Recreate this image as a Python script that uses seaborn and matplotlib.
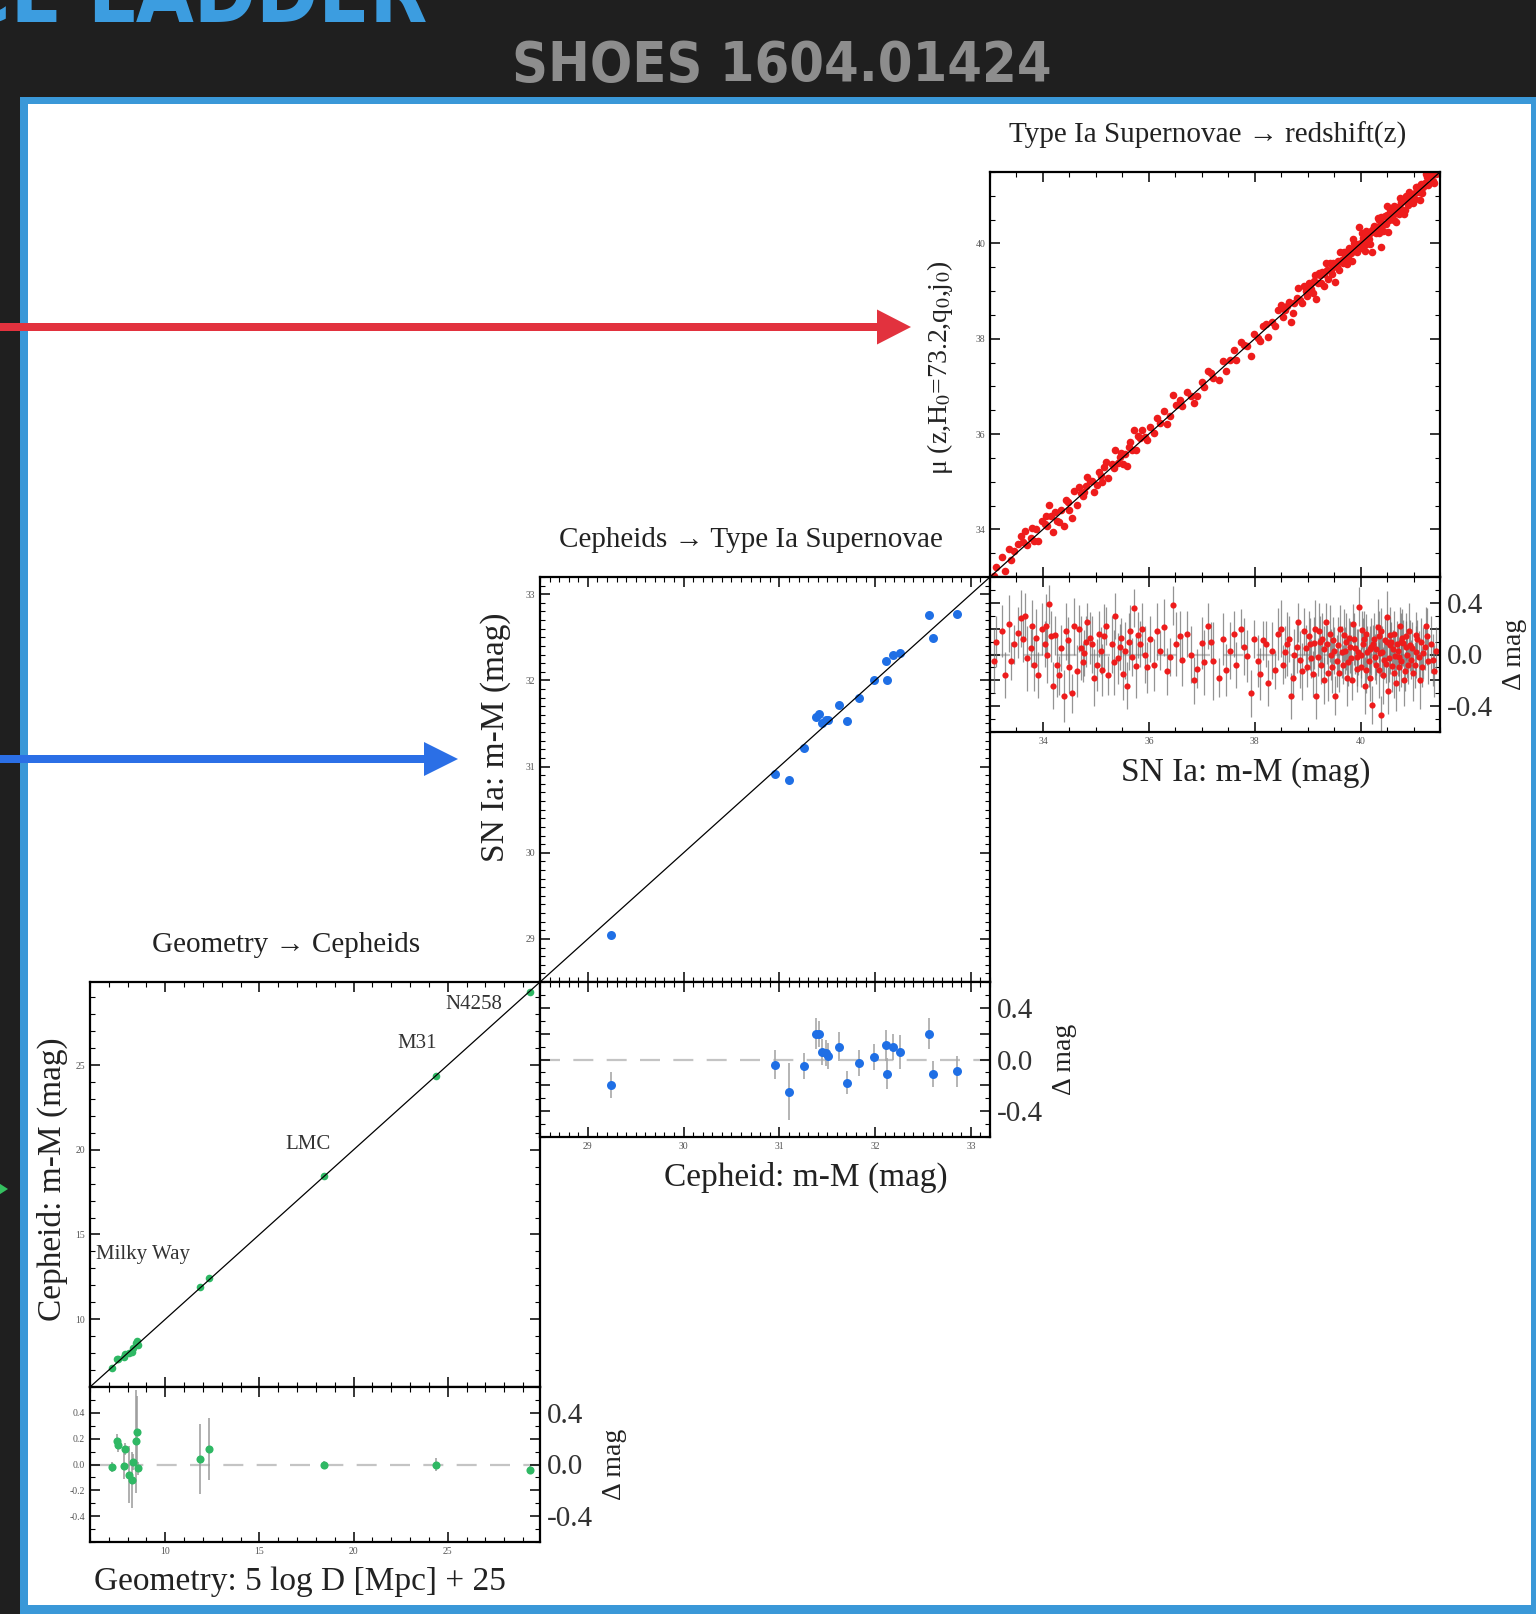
import numpy as np
import pandas as pd
import matplotlib
matplotlib.use("Agg")
import matplotlib.pyplot as plt
import seaborn as sns
from matplotlib.patches import Rectangle, FancyArrow
from matplotlib.ticker import MultipleLocator, FixedLocator, StrMethodFormatter

# ---- data ----

# rung 1: geometry -> cepheids (anchors)
anchor_geo = [7.16, 7.45, 7.50, 7.80, 7.85, 8.06, 8.21, 8.28, 8.44, 8.49, 8.53, 11.84, 12.32, 18.45, 24.36, 29.35]
anchor_ceph = [7.14, 7.63, 7.65, 7.79, 7.97, 7.98, 8.09, 8.30, 8.62, 8.74, 8.50, 11.88, 12.44, 18.45, 24.36, 29.31]
anchor_res = [-0.02, 0.18, 0.15, -0.01, 0.12, -0.08, -0.12, 0.02, 0.18, 0.25, -0.03, 0.04, 0.12, 0.00, 0.00, -0.04]
anchor_err = [0.04, 0.06, 0.05, 0.10, 0.05, 0.22, 0.22, 0.06, 0.40, 0.28, 0.05, 0.27, 0.24, 0.03, 0.05, 0.03]
anchor_names = ["Milky Way", "LMC", "M31", "N4258"]

# rung 2: cepheid hosts -> SN Ia
host_ceph = [29.24, 30.95, 31.10, 31.26, 31.38, 31.41, 31.45, 31.49, 31.51, 31.62,
             31.71, 31.83, 31.99, 32.11, 32.12, 32.19, 32.26, 32.56, 32.60, 32.86]
host_sn = [29.04, 30.91, 30.85, 31.21, 31.58, 31.61, 31.51, 31.54, 31.54, 31.72,
           31.53, 31.80, 32.01, 32.22, 32.01, 32.29, 32.32, 32.76, 32.49, 32.77]
host_res = [-0.20, -0.04, -0.25, -0.05, 0.20, 0.20, 0.06, 0.05, 0.03, 0.10,
            -0.18, -0.03, 0.02, 0.11, -0.11, 0.10, 0.06, 0.20, -0.11, -0.09]
host_err = [0.10, 0.11, 0.22, 0.10, 0.12, 0.10, 0.10, 0.10, 0.10, 0.11,
            0.09, 0.10, 0.10, 0.12, 0.12, 0.10, 0.13, 0.12, 0.10, 0.12]

# rung 3: SN Ia -> redshift (Hubble flow)
snia_mag = [
    33.07, 33.23, 33.28, 33.35, 33.46, 33.53, 33.67, 33.70, 33.77, 33.80, 33.87, 33.91, 33.98,
    34.03, 34.07, 34.12, 34.15, 34.19, 34.26, 34.31, 34.40, 34.47, 34.54, 34.59, 34.64, 34.71, 34.78, 34.84, 34.89, 34.93,
    35.02, 35.09, 35.16, 35.23, 35.30, 35.37, 35.42, 35.48, 35.55, 35.58, 35.65, 35.72, 35.76, 35.83, 35.88, 35.93,
    36.03, 36.10, 36.21, 36.28, 36.35, 36.45, 36.52, 36.63, 36.72, 36.80, 36.91, 37.01, 37.11, 37.22, 37.32, 37.41,
    37.53, 37.64, 37.74, 37.85, 37.93,
    38.06, 38.16, 38.26, 38.33, 38.44, 38.54, 38.61, 38.68, 38.75, 38.82, 38.89, 38.96, 39.02,
    39.07, 39.12, 39.16, 39.21, 39.25, 39.28, 39.31, 39.34, 39.39, 39.44, 39.48, 39.52, 39.55, 39.57, 39.62, 39.66,
    39.68, 39.70, 39.74, 39.78, 39.80, 39.82, 39.85, 39.90, 39.93, 39.94, 39.97,
    40.01, 40.02, 40.04, 40.08, 40.10, 40.11, 40.15, 40.18, 40.20, 40.22, 40.25, 40.27, 40.29, 40.32, 40.35, 40.36,
    40.39, 40.41, 40.43, 40.46, 40.48, 40.50, 40.53, 40.56, 40.58, 40.60, 40.63, 40.65, 40.67, 40.70, 40.72, 40.74,
    40.77, 40.79, 40.81, 40.84, 40.86, 40.88, 40.91, 40.95, 40.97,
    41.02, 41.05, 41.07, 41.12, 41.15, 41.18, 41.23, 41.28, 41.33, 41.39, 41.43]
snia_res = [
    -0.05, 0.18, -0.16, 0.24, 0.08, 0.17, 0.30, -0.03, 0.05, 0.22, 0.13, -0.16, 0.20,
    0.08, 0.00, 0.39, 0.14, -0.24, -0.08, -0.16, -0.32, 0.11, -0.30, 0.22, -0.13, 0.05, 0.01, 0.25, 0.13, 0.08,
    -0.08, 0.03, 0.14, -0.16, 0.08, 0.30, -0.03, 0.13, 0.03, -0.24, 0.18, 0.36, -0.09, 0.08, 0.20, 0.00,
    0.12, -0.08, 0.03, 0.21, -0.13, 0.38, 0.08, -0.04, 0.16, 0.00, -0.11, 0.09, 0.22, -0.05, -0.18, 0.12,
    0.03, -0.08, 0.20, -0.01, -0.30,
    -0.05, 0.11, -0.22, 0.03, 0.16, -0.08, 0.08, -0.32, 0.00, 0.25, -0.13, 0.05, 0.14,
    -0.03, 0.09, -0.32, 0.18, -0.08, 0.12, 0.04, 0.25, -0.14, 0.00, 0.11, -0.32, -0.05, 0.07, 0.20, -0.08,
    0.15, 0.03, -0.18, 0.13, 0.06, -0.03, 0.24, 0.05, -0.02, -0.11, 0.37,
    0.00, 0.19, 0.08, -0.24, -0.12, 0.16, -0.05, 0.04, 0.06, -0.39, 0.12, -0.02, -0.08, 0.21, 0.14, 0.01,
    -0.47, 0.02, -0.16, 0.11, -0.07, 0.29, -0.03, 0.07, 0.10, -0.09, 0.16, -0.01, -0.22, 0.03, -0.10, 0.22,
    -0.05, 0.13, 0.09, -0.13, 0.06, 0.00, 0.18, -0.04, 0.05,
    -0.08, 0.02, 0.12, -0.20, 0.10, 0.01, 0.22, -0.05, 0.08, -0.13, 0.03]
snia_err = [
    0.25, 0.20, 0.18, 0.22, 0.15, 0.20, 0.18, 0.25, 0.15, 0.20, 0.22, 0.18, 0.20,
    0.18, 0.22, 0.15, 0.20, 0.18, 0.25, 0.15, 0.20, 0.18, 0.15, 0.22, 0.20, 0.25, 0.18, 0.15, 0.20, 0.22,
    0.20, 0.18, 0.25, 0.15, 0.22, 0.18, 0.20, 0.15, 0.22, 0.18, 0.20, 0.15, 0.25, 0.18, 0.20, 0.22,
    0.18, 0.20, 0.15, 0.22, 0.18, 0.15, 0.25, 0.20, 0.18, 0.22, 0.15, 0.20, 0.18, 0.30, 0.15, 0.20,
    0.22, 0.18, 0.15, 0.20, 0.18,
    0.20, 0.15, 0.18, 0.22, 0.20, 0.15, 0.25, 0.18, 0.20, 0.15, 0.22, 0.18, 0.20,
    0.15, 0.20, 0.18, 0.22, 0.15, 0.20, 0.18, 0.15, 0.22, 0.20, 0.18, 0.15, 0.20, 0.22, 0.18, 0.15,
    0.20, 0.18, 0.22, 0.15, 0.20, 0.18, 0.15, 0.20, 0.22, 0.18, 0.15,
    0.18, 0.15, 0.20, 0.22, 0.18, 0.15, 0.20, 0.18, 0.22, 0.15, 0.20, 0.18, 0.15, 0.22, 0.20, 0.18,
    0.15, 0.20, 0.22, 0.18, 0.15, 0.20, 0.18, 0.22, 0.15, 0.20, 0.18, 0.15, 0.22, 0.20, 0.18, 0.15,
    0.20, 0.22, 0.18, 0.15, 0.20, 0.18, 0.22, 0.15, 0.20,
    0.18, 0.20, 0.15, 0.22, 0.18, 0.20, 0.15, 0.18, 0.22, 0.20, 0.18]

# more SNe from the crowded parts of the Hubble-flow sample
snia_mag_2 = [
    33.12, 33.40, 33.58, 33.62, 33.84, 34.05, 34.22, 34.35, 34.44, 34.50, 34.68, 34.75, 34.82, 34.97, 35.05,
    35.12, 35.20, 35.34, 35.45, 35.52, 35.62, 35.69, 35.80, 35.97, 36.15, 36.40, 36.58, 36.85, 37.05, 37.18,
    37.45, 37.60, 37.80, 37.98, 38.10,
    38.22, 38.38, 38.50, 38.58, 38.65, 38.72, 38.79, 38.86, 38.93, 38.99,
    39.05, 39.10, 39.14, 39.19, 39.23, 39.30, 39.36, 39.42, 39.46, 39.50, 39.59, 39.64, 39.72, 39.76, 39.84,
    39.88, 39.96, 40.00, 40.06, 40.13, 40.17, 40.23, 40.30, 40.34, 40.38, 40.44, 40.49, 40.52, 40.55, 40.61,
    40.64, 40.69, 40.73, 40.76, 40.82, 40.85, 40.89, 40.93, 40.99, 41.04, 41.10, 41.16, 41.21, 41.26, 41.36]
snia_res_2 = [
    0.10, -0.05, 0.28, 0.12, -0.08, 0.22, 0.15, 0.05, 0.18, -0.10, 0.20, -0.06, 0.10, -0.18, 0.16,
    -0.12, 0.22, -0.06, 0.06, -0.15, 0.10, -0.02, 0.15, -0.10, 0.18, -0.02, 0.14, -0.20, -0.06, 0.10,
    -0.12, 0.16, 0.06, 0.12, -0.15,
    0.08, -0.12, 0.20, 0.02, 0.12, -0.18, 0.06, -0.04, 0.18, -0.10,
    0.08, -0.15, 0.20, -0.02, 0.10, -0.20, 0.08, 0.16, -0.10, 0.03, -0.14, 0.02, 0.10, -0.06, -0.20,
    0.12, 0.02, -0.10, 0.12, 0.02, -0.18, 0.08, 0.04, -0.12, 0.18, -0.04, 0.10, -0.28, 0.15, 0.04,
    -0.14, 0.08, -0.02, 0.10, -0.20, 0.14, -0.08, 0.07, -0.14, 0.15, -0.02, -0.10, 0.06, 0.14, -0.04]
snia_err_2 = [
    0.20, 0.15, 0.22, 0.18, 0.20, 0.25, 0.15, 0.18, 0.22, 0.20,
    0.18, 0.15, 0.20, 0.22, 0.18, 0.20, 0.15, 0.25, 0.18, 0.20,
    0.22, 0.15, 0.18, 0.20, 0.22, 0.15, 0.20, 0.18, 0.25, 0.15,
    0.20, 0.18, 0.22, 0.15, 0.20, 0.18, 0.15, 0.22, 0.20, 0.18,
    0.15, 0.20, 0.22, 0.18, 0.15, 0.20, 0.18, 0.22, 0.15, 0.20,
    0.18, 0.15, 0.22, 0.20, 0.18, 0.15, 0.20, 0.22, 0.18, 0.15,
    0.20, 0.18, 0.15, 0.22, 0.20, 0.18, 0.15, 0.20, 0.22, 0.18,
    0.15, 0.20, 0.18, 0.22, 0.15, 0.20, 0.18, 0.15, 0.22, 0.20,
    0.18, 0.15, 0.20, 0.22, 0.18, 0.20, 0.15, 0.18, 0.22, 0.20]

# ---- figure setup ----
W, H = 1536, 1614
PW, PH, RH = 450, 405, 155   # panel width, main height, residual height (px)

sns.set_theme(style="ticks")
plt.rcParams['font.family'] = ['Liberation Serif', 'DejaVu Serif']
plt.rcParams['mathtext.fontset'] = 'stix'
plt.rcParams['axes.unicode_minus'] = False

fig = plt.figure(figsize=(W / 100, H / 100), dpi=100)
fig.patch.set_facecolor('#1f1f1f')


def rect(left, top, w, h):
    return [left / W, 1 - (top + h) / H, w / W, h / H]


# background: white slide panel with blue frame, plus the arrows
bg = fig.add_axes([0, 0, 1, 1], zorder=-10)
bg.set_xlim(0, W)
bg.set_ylim(H, 0)
bg.axis('off')
bg.add_patch(Rectangle((20, 97), 1540, 1540, color='#3a98d8', lw=0))
bg.add_patch(Rectangle((28, 104), 1503, 1501, color='white', lw=0))
bg.add_patch(FancyArrow(0, 327, 911, 0, width=8, head_width=35, head_length=34,
                        length_includes_head=True, color='#e2323e', lw=0))
bg.add_patch(FancyArrow(0, 759, 458, 0, width=8, head_width=34, head_length=34,
                        length_includes_head=True, color='#2b6fe6', lw=0))
bg.add_patch(FancyArrow(-40, 1189, 48, 0, width=5, head_width=18, head_length=14,
                        length_includes_head=True, color='#35c060', lw=0))

fig.text(427 / W, 1 - 22 / H, "DISTANCE LADDER", color='#3c9de0', fontsize=60,
         fontweight='bold', fontstretch='condensed', family=['DejaVu Sans'],
         ha='right', va='baseline')
fig.text(782 / W, 1 - 81 / H, "SHOES 1604.01424", color='#8d8d8d', fontsize=40,
         fontweight='bold', fontstretch='condensed', family=['DejaVu Sans'],
         ha='center', va='baseline')


def style(ax, xmaj, xmin, ymaj, ymin):
    ax.xaxis.set_major_locator(MultipleLocator(xmaj))
    ax.xaxis.set_minor_locator(MultipleLocator(xmin))
    if isinstance(ymaj, list):
        ax.yaxis.set_major_locator(FixedLocator(ymaj))
    else:
        ax.yaxis.set_major_locator(MultipleLocator(ymaj))
    ax.yaxis.set_minor_locator(MultipleLocator(ymin))
    ax.tick_params(which='both', direction='in', top=True, right=True,
                   labelsize=7, labelcolor='#555555', color='black')
    ax.tick_params(which='major', length=7, width=1.1)
    ax.tick_params(which='minor', length=3.5, width=0.8)
    for s in ax.spines.values():
        s.set_linewidth(1.6)
        s.set_color('black')


def make_panel(left, top, lims, title, title_x, xmaj, xmin, left_res_labels):
    ax = fig.add_axes(rect(left, top, PW, PH))
    rax = fig.add_axes(rect(left, top + PH, PW, RH))
    ax.set_xlim(lims)
    ax.set_ylim(lims)
    rax.set_xlim(lims)
    rax.set_ylim(-0.6, 0.6)
    style(ax, xmaj, xmin, xmaj, xmin)
    style(rax, xmaj, xmin, [-0.4, -0.2, 0.0, 0.2, 0.4], 0.1)
    rax.yaxis.set_major_formatter(StrMethodFormatter("{x:.1f}"))
    ax.tick_params(labelbottom=False)
    rax.tick_params(labelleft=left_res_labels)
    ax.axline((lims[0], lims[0]), slope=1, color='black', lw=0.9, zorder=3)
    rax.axhline(0, color='#c4c4c4', lw=1.6, ls=(0, (9, 6)), zorder=0)
    ax.text(title_x, 1 + 37 / PH, title, transform=ax.transAxes, ha='center',
            va='center', fontsize=21, color='#222222')

    sec = rax.secondary_yaxis('right')
    sec.set_yticks([-0.4, 0.0, 0.4])
    sec.set_yticklabels(['-0.4', '0.0', '0.4'])
    sec.tick_params(length=0, labelsize=21, pad=5, labelcolor='#333333')
    sec.spines['right'].set_visible(False)
    rax.text(1.165, 0.5, '\u0394 mag', transform=rax.transAxes, rotation=90,
             ha='center', va='center', fontsize=20, color='#222222')
    return ax, rax


def finish_labels(ax, rax, xlabel, xlabel_x, ylabel, ylabel_pos, ysize):
    ax.set_xlabel('')
    rax.set_ylabel('')
    rax.set_xlabel(xlabel, fontsize=24, color='#222222')
    rax.xaxis.set_label_coords(xlabel_x, -0.16)
    ax.set_ylabel(ylabel, fontsize=ysize, color='#222222')
    ax.yaxis.set_label_coords(*ylabel_pos)


# ---- panel 1: geometry -> cepheids ----
green = '#2fb864'
ax1, rax1 = make_panel(90, 982, (6.0, 29.9), "Geometry \u2192 Cepheids", 0.436, 5, 1, True)
df1 = pd.DataFrame({'geo': anchor_geo, 'ceph': anchor_ceph, 'res': anchor_res, 'err': anchor_err})
sns.scatterplot(data=df1, x='geo', y='ceph', ax=ax1, color=green, s=30, linewidth=0, zorder=2, legend=False)
rax1.errorbar(df1['geo'], df1['res'], yerr=df1['err'], fmt='none', ecolor='#9a9a9a', elinewidth=1.1, zorder=1)
sns.scatterplot(data=df1, x='geo', y='res', ax=rax1, color=green, s=34, linewidth=0, zorder=2, legend=False)
finish_labels(ax1, rax1, "Geometry: 5 log D [Mpc] + 25", 0.467,
              "Cepheid: m-M (mag)", (-0.05, 0.514), 24)
label_spots = {"Milky Way": (8.8, 13.8), "LMC": (17.6, 20.3), "M31": (23.4, 26.3), "N4258": (26.4, 28.6)}
for name in anchor_names:
    ax1.text(*label_spots[name], name, fontsize=15, color='#333333', ha='center', va='center')

# ---- panel 2: cepheids -> SN Ia ----
blue = '#1f6fe5'
ax2, rax2 = make_panel(540, 577, (28.5, 33.2), "Cepheids \u2192 Type Ia Supernovae", 0.469, 1, 0.1, False)
df2 = pd.DataFrame({'ceph': host_ceph, 'sn': host_sn, 'res': host_res, 'err': host_err})
sns.scatterplot(data=df2, x='ceph', y='sn', ax=ax2, color=blue, s=42, linewidth=0, zorder=2, legend=False)
rax2.errorbar(df2['ceph'], df2['res'], yerr=df2['err'], fmt='none', ecolor='#a8a8a8', elinewidth=1.2, zorder=1)
sns.scatterplot(data=df2, x='ceph', y='res', ax=rax2, color=blue, s=42, linewidth=0, zorder=2, legend=False)
finish_labels(ax2, rax2, "Cepheid: m-M (mag)", 0.591, "SN Ia: m-M (mag)", (-0.064, 0.605), 24)

# ---- panel 3: SN Ia -> redshift ----
red = '#ee1c1c'
ax3, rax3 = make_panel(990, 172, (33.0, 41.5), "Type Ia Supernovae \u2192 redshift(z)", 0.484, 2, 0.5, False)
df3 = pd.DataFrame({'sn': snia_mag + snia_mag_2, 'res': snia_res + snia_res_2, 'err': snia_err + snia_err_2})
df3['mu_z'] = df3['sn'] + df3['res']
sns.scatterplot(data=df3, x='sn', y='mu_z', ax=ax3, color=red, s=30, linewidth=0, zorder=2, legend=False)
rax3.errorbar(df3['sn'], df3['res'], yerr=df3['err'], fmt='none', ecolor='#707070', elinewidth=0.9,
              alpha=0.75, zorder=1)
sns.scatterplot(data=df3, x='sn', y='res', ax=rax3, color=red, s=20, linewidth=0, zorder=2, legend=False)
finish_labels(ax3, rax3, "SN Ia: m-M (mag)", 0.569,
              "\u03bc (z,H$_0$=73.2,q$_0$,j$_0$)", (-0.078, 0.516), 20)

fig.savefig("out.png", dpi=100, facecolor=fig.get_facecolor())
